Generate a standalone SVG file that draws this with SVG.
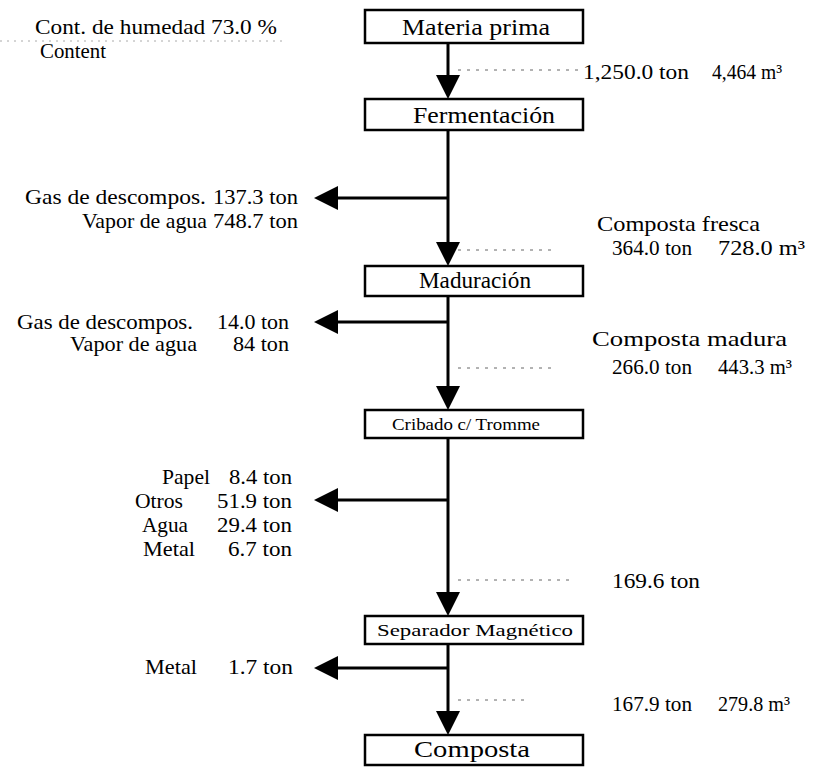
<svg xmlns="http://www.w3.org/2000/svg" width="820" height="769" viewBox="0 0 820 769">
<style>
text{font-family:"Liberation Serif","Times New Roman",serif;fill:#000}
.box{fill:#fff;stroke:#000;stroke-width:2.5}
.bt{font-size:23px;text-anchor:middle}
.bs{font-size:17px;text-anchor:middle}
.lab{font-size:21px}
.flow{stroke:#000;stroke-width:3;fill:none}
.dot{stroke:#666;stroke-width:1;stroke-dasharray:3 6;fill:none}
.faint{stroke:#aaa;stroke-width:1;stroke-dasharray:2 5;fill:none}
</style>
<defs>
<marker id="ah" viewBox="0 0 24 24" refX="0" refY="12" markerWidth="24" markerHeight="24" markerUnits="userSpaceOnUse" orient="auto">
<path d="M0,0 L24,12 L0,24 z" fill="#000"/>
</marker>
</defs>
<rect width="820" height="769" fill="#fff"/>
<g id="connectors">
<line class="flow" x1="448" y1="43" x2="448" y2="75" marker-end="url(#ah)"/>
<line class="flow" x1="448" y1="130" x2="448" y2="242" marker-end="url(#ah)"/>
<line class="flow" x1="448" y1="296" x2="448" y2="386" marker-end="url(#ah)"/>
<line class="flow" x1="448" y1="438" x2="448" y2="592" marker-end="url(#ah)"/>
<line class="flow" x1="448" y1="644" x2="448" y2="711" marker-end="url(#ah)"/>
<line class="flow" x1="448" y1="198" x2="338" y2="198" marker-end="url(#ah)"/>
<line class="flow" x1="448" y1="322" x2="338" y2="322" marker-end="url(#ah)"/>
<line class="flow" x1="448" y1="500" x2="338" y2="500" marker-end="url(#ah)"/>
<line class="flow" x1="448" y1="668" x2="338" y2="668" marker-end="url(#ah)"/>
<line class="faint" x1="0" y1="41" x2="285" y2="41"/>
<line class="dot" x1="458" y1="70" x2="580" y2="70"/>
<line class="dot" x1="458" y1="250" x2="555" y2="250"/>
<line class="dot" x1="458" y1="368" x2="555" y2="368"/>
<line class="dot" x1="458" y1="580" x2="575" y2="580"/>
<line class="dot" x1="458" y1="700" x2="530" y2="700"/>
</g>
<g id="n-materia"><rect class="box" x="365" y="10" width="218" height="33"/><text class="bt" x="476" y="35" textLength="148" lengthAdjust="spacingAndGlyphs">Materia prima</text></g>
<g id="n-fermentacion"><rect class="box" x="365" y="99" width="218" height="31"/><text class="bt" x="484" y="123" textLength="142" lengthAdjust="spacingAndGlyphs">Fermentación</text></g>
<g id="n-maduracion"><rect class="box" x="365" y="266" width="218" height="30"/><text class="bt" x="475" y="288" textLength="112" lengthAdjust="spacingAndGlyphs">Maduración</text></g>
<g id="n-cribado"><rect class="box" x="365" y="410" width="218" height="28"/><text class="bs" x="466" y="430" textLength="148" lengthAdjust="spacingAndGlyphs">Cribado c/ Tromme</text></g>
<g id="n-separador"><rect class="box" x="365" y="616" width="218" height="28"/><text class="bs" x="475" y="636" textLength="196" lengthAdjust="spacingAndGlyphs">Separador Magnético</text></g>
<g id="n-composta"><rect class="box" x="365" y="735" width="218" height="30"/><text class="bt" x="472" y="757" textLength="116" lengthAdjust="spacingAndGlyphs">Composta</text></g>
<g id="labels">
<text class="lab" x="35" y="34" textLength="242" lengthAdjust="spacingAndGlyphs">Cont. de humedad 73.0 %</text>
<text class="lab" x="40" y="58" font-size="19" textLength="66" lengthAdjust="spacingAndGlyphs">Content</text>
<text class="lab" x="583" y="79" textLength="106" lengthAdjust="spacingAndGlyphs">1,250.0 ton</text>
<text class="lab" x="712" y="79" textLength="70" lengthAdjust="spacingAndGlyphs">4,464 m³</text>
<text class="lab" x="25" y="204" textLength="181" lengthAdjust="spacingAndGlyphs">Gas de descompos.</text>
<text class="lab" x="213" y="204" textLength="85" lengthAdjust="spacingAndGlyphs">137.3 ton</text>
<text class="lab" x="82" y="228" textLength="125" lengthAdjust="spacingAndGlyphs">Vapor de agua</text>
<text class="lab" x="213" y="228" textLength="85" lengthAdjust="spacingAndGlyphs">748.7 ton</text>
<text class="lab" x="597" y="231" textLength="163" lengthAdjust="spacingAndGlyphs">Composta fresca</text>
<text class="lab" x="612" y="255" textLength="80" lengthAdjust="spacingAndGlyphs">364.0 ton</text>
<text class="lab" x="718" y="255" textLength="87" lengthAdjust="spacingAndGlyphs">728.0 m³</text>
<text class="lab" x="17" y="329" textLength="176" lengthAdjust="spacingAndGlyphs">Gas de descompos.</text>
<text class="lab" x="217" y="329" textLength="72" lengthAdjust="spacingAndGlyphs">14.0 ton</text>
<text class="lab" x="70" y="351" textLength="127" lengthAdjust="spacingAndGlyphs">Vapor de agua</text>
<text class="lab" x="233" y="351" textLength="56" lengthAdjust="spacingAndGlyphs">84 ton</text>
<text class="lab" x="592" y="346" textLength="195" lengthAdjust="spacingAndGlyphs">Composta madura</text>
<text class="lab" x="612" y="374" textLength="80" lengthAdjust="spacingAndGlyphs">266.0 ton</text>
<text class="lab" x="718" y="374" textLength="74" lengthAdjust="spacingAndGlyphs">443.3 m³</text>
<text class="lab" x="162" y="484" textLength="48" lengthAdjust="spacingAndGlyphs">Papel</text>
<text class="lab" x="229" y="484" textLength="63" lengthAdjust="spacingAndGlyphs">8.4 ton</text>
<text class="lab" x="135" y="508" textLength="48" lengthAdjust="spacingAndGlyphs">Otros</text>
<text class="lab" x="217" y="508" textLength="75" lengthAdjust="spacingAndGlyphs">51.9 ton</text>
<text class="lab" x="142" y="532" textLength="46" lengthAdjust="spacingAndGlyphs">Agua</text>
<text class="lab" x="217" y="532" textLength="75" lengthAdjust="spacingAndGlyphs">29.4 ton</text>
<text class="lab" x="143" y="556" textLength="52" lengthAdjust="spacingAndGlyphs">Metal</text>
<text class="lab" x="228" y="556" textLength="64" lengthAdjust="spacingAndGlyphs">6.7 ton</text>
<text class="lab" x="612" y="588" textLength="88" lengthAdjust="spacingAndGlyphs">169.6 ton</text>
<text class="lab" x="145" y="674" textLength="52" lengthAdjust="spacingAndGlyphs">Metal</text>
<text class="lab" x="228" y="674" textLength="65" lengthAdjust="spacingAndGlyphs">1.7 ton</text>
<text class="lab" x="612" y="711" textLength="80" lengthAdjust="spacingAndGlyphs">167.9 ton</text>
<text class="lab" x="718" y="711" textLength="72" lengthAdjust="spacingAndGlyphs">279.8 m³</text>
</g>
</svg>
